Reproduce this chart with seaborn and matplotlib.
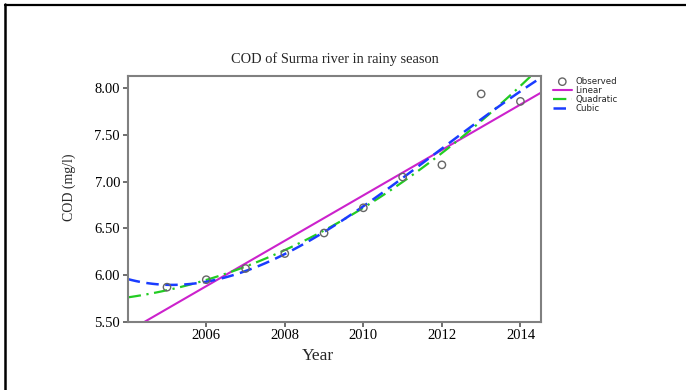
import matplotlib
matplotlib.use("Agg")
import matplotlib.pyplot as plt
from matplotlib.lines import Line2D
import numpy as np
import pandas as pd
import seaborn as sns

# Observed COD in the rainy season
years = [2005, 2006, 2007, 2008, 2009, 2010, 2011, 2012, 2013, 2014]
cod = [5.87, 5.95, 6.07, 6.23, 6.45, 6.72, 7.05, 7.18, 7.94, 7.86]

x_ticks = [2006, 2008, 2010, 2012, 2014]
y_ticks = [5.50, 6.00, 6.50, 7.00, 7.50, 8.00]

fit_names = ["Linear", "Quadratic", "Cubic"]
fit_orders = [1, 2, 3]

df = pd.DataFrame({"Year": years, "COD": cod})

sns.set_theme(style="white")
plt.rcParams["font.family"] = ["Liberation Serif", "DejaVu Serif"]

fig = plt.figure(figsize=(6.86, 3.90), dpi=100)
ax = fig.add_axes([0.1862, 0.1751, 0.6028, 0.6308])

xlim = (2004.0, 2014.53)
ylim = (5.50, 8.135)
ax.set_xlim(*xlim)
ax.set_ylim(*ylim)

fit_styles = {
    "Linear": dict(color="#cc22cc", lw=1.5, ls="-"),
    "Quadratic": dict(color="#22cc22", lw=1.6, ls=(0, (6, 2.5, 1, 2.5))),
    "Cubic": dict(color="#1a3cff", lw=1.8, ls=(0, (5, 2.6))),
}

for name, order in zip(fit_names, fit_orders):
    sns.regplot(data=df, x="Year", y="COD", order=order, ci=None,
                scatter=False, truncate=False, ax=ax, label=name,
                line_kws=fit_styles[name])

sns.scatterplot(data=df, x="Year", y="COD", ax=ax, marker="o",
                s=28, facecolor="none", edgecolor="#666666",
                linewidth=1.0, label="Observed", zorder=5)

ax.set_xlim(*xlim)
ax.set_ylim(*ylim)
ax.set_xticks(x_ticks)
ax.set_xticklabels([str(t) for t in x_ticks])
ax.set_yticks(y_ticks)
ax.set_yticklabels([f"{t:.2f}" for t in y_ticks])

for sp in ax.spines.values():
    sp.set_visible(True)
    sp.set_color("#808080")
    sp.set_linewidth(1.5)

ax.tick_params(axis="both", direction="out", length=3.5, width=1.2,
               color="#555555", labelsize=10.5, labelcolor="black", pad=2)
ax.tick_params(top=False, right=False, left=True, bottom=True)

ax.set_title("COD of Surma river in rainy season", fontsize=10.4, pad=9)
ax.set_xlabel("Year", fontsize=12.5)
ax.set_ylabel("COD (mg/l)", fontsize=10)
ax.xaxis.set_label_coords(0.459, -0.108)
ax.yaxis.set_label_coords(-0.126, 0.545)

handles, labels = ax.get_legend_handles_labels()
lookup = dict(zip(labels, handles))
order = ["Observed"] + fit_names
leg = ax.legend([lookup[k] for k in order], order,
                loc="upper left", bbox_to_anchor=(1.028, 0.995),
                frameon=False, prop={"family": "DejaVu Sans", "size": 6.2},
                handlelength=2.2, handletextpad=0.4, labelspacing=0.0,
                borderaxespad=0, borderpad=0)

# page frame lines around the chart
fig.add_artist(Line2D([4.5 / 686, 1.0], [1 - 5 / 390, 1 - 5 / 390],
                      transform=fig.transFigure, color="black", lw=1.6))
fig.add_artist(Line2D([5 / 686, 5 / 686], [0.0, 1 - 4 / 390],
                      transform=fig.transFigure, color="black", lw=1.8))

fig.savefig("out.png", dpi=100)
